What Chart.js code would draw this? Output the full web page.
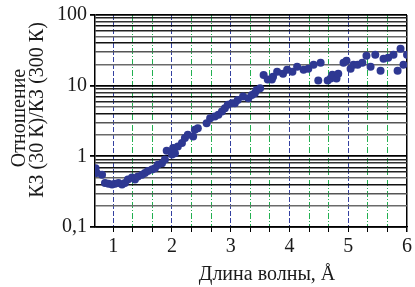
<!DOCTYPE html>
<html>
<head>
<meta charset="utf-8">
<script src="https://cdn.jsdelivr.net/npm/chart.js@4.4.1/dist/chart.umd.min.js"></script>
<style>
  html, body { margin: 0; padding: 0; background: #fff; }
</style>
</head>
<body>
<canvas id="chart" width="415" height="287"></canvas>
<script>
// Wavelength, Å
const wavelength = [
  0.70, 0.72, 0.81, 0.86, 0.92, 0.98, 1.03, 1.09, 1.15, 1.20,
  1.25, 1.32, 1.37, 1.42, 1.49, 1.54, 1.59, 1.66, 1.71, 1.76,
  1.83, 1.88, 1.91, 2.00, 2.02, 2.05, 2.10, 2.17, 2.22, 2.27,
  2.36, 2.39, 2.44, 2.59, 2.65, 2.73, 2.79, 2.85, 2.90, 2.95,
  3.02, 3.07, 3.12, 3.21, 3.30, 3.36, 3.41, 3.44, 3.50, 3.56,
  3.63, 3.70, 3.72, 3.79, 3.89, 3.96, 4.05, 4.13, 4.24, 4.32,
  4.41, 4.49, 4.53, 4.65, 4.70, 4.73, 4.80, 4.83, 4.92, 4.97,
  5.04, 5.09, 5.16, 5.24, 5.31, 5.38, 5.46, 5.55, 5.60, 5.68,
  5.77, 5.84, 5.89, 5.94, 6.00
];
// Ratio KZ(30 K)/KZ(300 K)
const ratio = [
  0.68, 0.58, 0.55, 0.42, 0.41, 0.40, 0.41, 0.42, 0.40, 0.42,
  0.47, 0.50, 0.47, 0.52, 0.55, 0.58, 0.62, 0.65, 0.68, 0.76,
  0.80, 0.90, 1.20, 1.06, 1.31, 1.11, 1.38, 1.54, 1.81, 2.02,
  1.91, 2.38, 2.50, 2.94, 3.46, 3.66, 3.87, 4.30, 4.79, 5.35,
  5.63, 5.63, 6.29, 7.00, 6.62, 7.39, 7.79, 8.69, 9.16, 14.2,
  12.2, 12.2, 13.4, 15.7, 14.8, 16.8, 15.7, 18.5, 16.8, 17.4,
  19.8, 11.8, 21.1, 11.8, 12.6, 14.3, 12.6, 14.8, 21.1, 22.5,
  17.4, 19.8, 19.8, 21.1, 26.5, 18.5, 27.3, 16.3, 24.0, 24.8,
  27.3, 16.3, 33.2, 19.8, 27.3
];

const xTicks = [1, 4/3, 5/3, 2, 7/3, 8/3, 3, 10/3, 11/3, 4, 13/3, 14/3, 5, 16/3, 17/3, 6];
const yTicks = [
  0.1, 0.2, 0.3, 0.4, 0.5, 0.6, 0.7, 0.8, 0.9,
  1, 2, 3, 4, 5, 6, 7, 8, 9,
  10, 20, 30, 40, 50, 60, 70, 80, 90, 100
];
const yLabels = { 0.1: '0,1', 1: '1', 10: '10', 100: '100' };
const xTitle = 'Длина волны, Å';
const yTitle = ['Отношение', 'КЗ (30 К)/КЗ (300 К)'];

Chart.defaults.font.family = '"Liberation Serif", "Times New Roman", serif';
Chart.defaults.color = '#1a1a1a';

function isInt(v) {
  return Math.abs(v - Math.round(v)) < 1e-6;
}

// shade of horizontal grid line by mantissa
function yGridColor(v) {
  const m = Math.round(v / Math.pow(10, Math.floor(Math.log10(v) + 1e-9)));
  const shades = { 1: '#000', 2: '#6a6a6a', 3: '#555', 4: '#111', 5: '#666', 6: '#222', 7: '#111', 8: '#333', 9: '#222' };
  return shades[m] || '#222';
}

const titles = {
  id: 'titles',
  afterDraw(chart) {
    const ctx = chart.ctx;
    ctx.save();
    ctx.fillStyle = '#1a1a1a';
    ctx.font = '20px "Liberation Serif", serif';
    ctx.textAlign = 'center';
    ctx.textBaseline = 'alphabetic';
    ctx.fillText(xTitle, 267, 280);

    ctx.translate(25, 118);
    ctx.rotate(-Math.PI / 2);
    ctx.fillText(yTitle[0], 0, 0);
    ctx.restore();

    ctx.save();
    ctx.fillStyle = '#1a1a1a';
    ctx.font = '20px "Liberation Serif", serif';
    ctx.textAlign = 'center';
    ctx.translate(43, 110);
    ctx.rotate(-Math.PI / 2);
    ctx.fillText(yTitle[1], 0, 0);
    ctx.restore();
  }
};

new Chart(document.getElementById('chart'), {
  type: 'scatter',
  data: {
    datasets: [{
      data: wavelength.map((x, i) => ({ x: x, y: ratio[i] })),
      backgroundColor: '#2e3892',
      borderColor: '#2e3892',
      borderWidth: 0,
      pointRadius: 4
    }]
  },
  options: {
    responsive: false,
    animation: false,
    layout: { padding: { top: 13, right: 8, left: 0, bottom: 0 } },
    plugins: {
      legend: { display: false },
      tooltip: { enabled: false }
    },
    scales: {
      x: {
        type: 'linear',
        min: 0.69,
        max: 6,
        afterBuildTicks: s => { s.ticks = xTicks.map(v => ({ value: v })); },
        afterFit: s => { s.height = 60; },
        ticks: {
          autoSkip: false,
          maxRotation: 0,
          padding: 3,
          font: { size: 20 },
          callback: v => isInt(v) ? String(Math.round(v)) : ''
        },
        grid: {
          color: c => {
            if (!c.tick) return '#000';
            if (Math.abs(c.tick.value - 6) < 1e-6) return '#000';
            return isInt(c.tick.value) ? '#3340a0' : '#22b050';
          },
          lineWidth: c => (c.tick && Math.abs(c.tick.value - 6) < 1e-6) ? 1.5 : 1,
          tickColor: '#000',
          tickLength: 5
        },
        border: {
          display: true,
          color: '#000',
          width: 1.5,
          dash: c => {
            if (!c.tick || Math.abs(c.tick.value - 6) < 1e-6) return [];
            return isInt(c.tick.value) ? [5, 2] : [6, 2, 1, 2];
          }
        }
      },
      y: {
        type: 'logarithmic',
        min: 0.1,
        max: 100,
        afterBuildTicks: s => { s.ticks = yTicks.map(v => ({ value: v })); },
        afterFit: s => { s.width = 95; },
        ticks: {
          autoSkip: false,
          padding: 3,
          font: { size: 20 },
          callback: v => yLabels[v] !== undefined ? yLabels[v] : ''
        },
        grid: {
          color: c => c.tick ? yGridColor(c.tick.value) : '#000',
          lineWidth: c => (c.tick && yLabels[c.tick.value] !== undefined) ? 1.8 : 1.5,
          tickColor: c => (c.tick && yLabels[c.tick.value] !== undefined) ? '#000' : 'rgba(0,0,0,0)',
          tickLength: 5
        },
        border: { display: true, color: '#000', width: 1.5 }
      }
    }
  },
  plugins: [titles]
});
</script>
</body>
</html>
